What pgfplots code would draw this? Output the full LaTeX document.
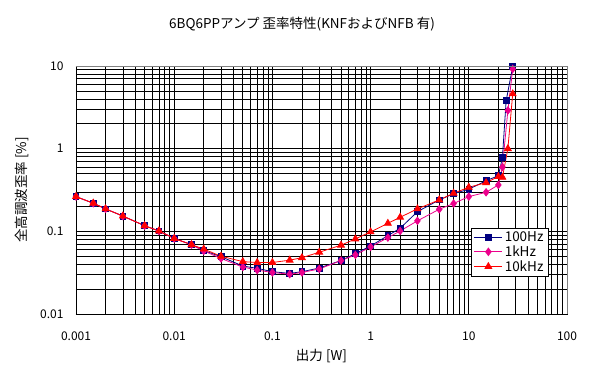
\documentclass[border=0pt]{standalone}
\usepackage{pgfplots}
\pgfplotsset{compat=1.18}
\usepackage{fontspec}
\setmainfont{Noto Sans CJK JP}
\definecolor{navy}{RGB}{0,0,128}
\definecolor{frame}{RGB}{128,128,128}
\begin{document}
\begin{tikzpicture}[x=1pt,y=1pt]
\path[use as bounding box] (-76,-62) rectangle (529,314);
\begin{axis}[
  at={(0,0)}, anchor=south west,
  scale only axis, width=491pt, height=248pt,
  xmode=log, ymode=log,
  xmin=0.001, xmax=100, ymin=0.01, ymax=10,
  xtick={0.001,0.01,0.1,1,10,100},
  xticklabels={0.001,0.01,0.1,1,10,100},
  ytick={0.01,0.1,1,10},
  yticklabels={0.01,0.1,1,10},
  grid=both,
  major grid style={black, line width=0.7pt},
  minor grid style={black, line width=0.7pt},
  major tick length=0pt, minor tick length=0pt,
  axis line style={black, line width=0.7pt},
  tick label style={font=\fontsize{12}{14}\selectfont},
  xticklabel style={yshift=-14pt},
  yticklabel style={xshift=-9pt},
  xlabel={出力 [W]}, ylabel={全高調波歪率 [\%]},
  label style={font=\fontsize{13.5}{15}\selectfont},
  xlabel style={at={(axis description cs:0.5,0)}, anchor=center, yshift=-42pt},
  ylabel style={at={(axis description cs:0,0.5)}, anchor=center, rotate=0, yshift=54pt},
  legend style={at={(rel axis cs:0.963,0.347)}, anchor=north east, draw=black, fill=white,
    line width=0.7pt,
    font=\fontsize{13.5}{15}\selectfont, row sep=-1.5pt, inner xsep=3pt, inner ysep=1.5pt},
  legend cell align=left,
  legend image code/.code={%
    \draw[mark repeat=2,mark phase=2] plot coordinates {(0pt,0pt) (14pt,0pt) (28pt,0pt)};},
  /pgf/number format/assume math mode=true,
]
\addplot[navy, line width=0.8pt, mark=square*, mark size=2.9pt, mark options={solid}] coordinates {
(0.001,0.263) (0.0015,0.219) (0.002,0.187) (0.003,0.153) (0.005,0.117) (0.007,0.101)
(0.01,0.082) (0.015,0.069) (0.02,0.0585) (0.03,0.0494) (0.05,0.038) (0.07,0.0357)
(0.1,0.0325) (0.15,0.031) (0.2,0.0325) (0.3,0.036) (0.5,0.0443) (0.7,0.0538)
(1,0.0666) (1.5,0.0887) (2,0.109) (3,0.173) (5,0.24) (7,0.285) (10,0.323)
(15,0.41) (20,0.47) (22,0.78) (24,3.8) (28,9.8)};
\addlegendentry{100Hz}
\addplot[magenta, line width=0.8pt, mark=diamond*, mark size=3.7pt, mark options={solid}] coordinates {
(0.001,0.263) (0.0015,0.219) (0.002,0.187) (0.003,0.153) (0.005,0.117) (0.007,0.101)
(0.01,0.082) (0.015,0.069) (0.02,0.058) (0.03,0.047) (0.05,0.037) (0.07,0.034)
(0.1,0.0318) (0.15,0.0303) (0.2,0.0318) (0.3,0.0351) (0.5,0.0443) (0.7,0.0519)
(1,0.0647) (1.5,0.084) (2,0.101) (3,0.134) (5,0.185) (7,0.217) (10,0.263)
(15,0.297) (20,0.364) (22,0.6) (25,2.9) (28,9.2)};
\addlegendentry{1kHz}
\addplot[red, line width=0.8pt, mark=triangle*, mark size=3.9pt, mark options={solid}] coordinates {
(0.001,0.263) (0.0015,0.219) (0.002,0.187) (0.003,0.153) (0.005,0.117) (0.007,0.101)
(0.01,0.082) (0.015,0.069) (0.02,0.061) (0.03,0.050) (0.05,0.043) (0.07,0.042)
(0.1,0.042) (0.15,0.0448) (0.2,0.048) (0.3,0.0559) (0.5,0.068) (0.7,0.081)
(1,0.0985) (1.5,0.125) (2,0.148) (3,0.187) (5,0.24) (7,0.289) (10,0.341)
(15,0.388) (20,0.46) (22,0.45) (25,1.0) (28,4.6)};
\addlegendentry{10kHz}
\end{axis}
\draw[frame, line width=0.8pt] (0,248) -- (491,248) -- (491,0);
\node[font=\fontsize{13.5}{15}\selectfont] at (226,290) {6BQ6PPアンプ 歪率特性(KNFおよびNFB 有)};
\end{tikzpicture}
\end{document}
